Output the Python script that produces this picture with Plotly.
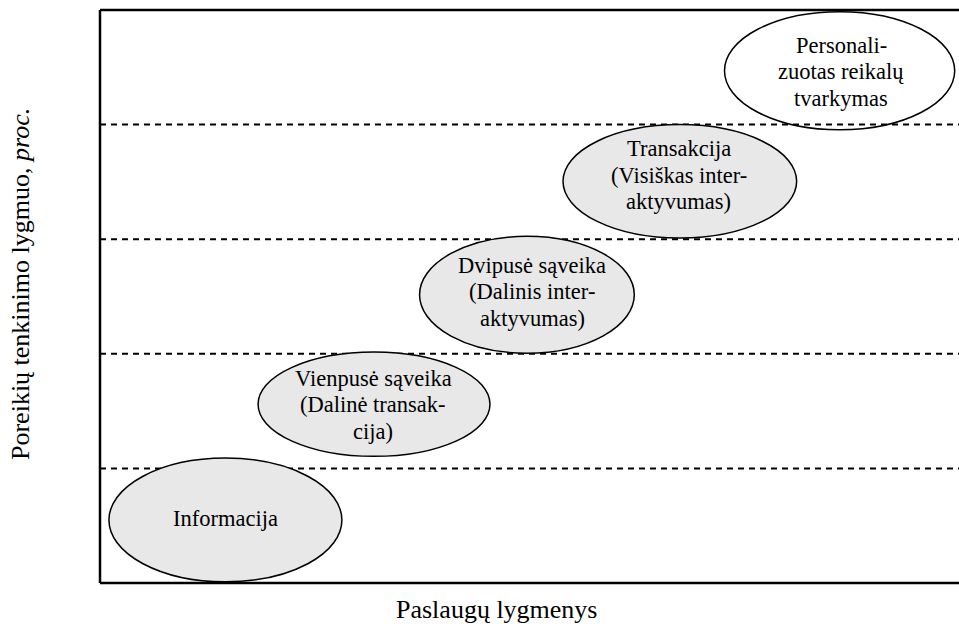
import plotly.graph_objects as go

# ---- data ----
level_labels = [
    ["Informacija"],
    ["Vienpusė sąveika", "(Dalinė transak-", "cija)"],
    ["Dvipusė sąveika", "(Dalinis inter-", "aktyvumas)"],
    ["Transakcija", "(Visiškas inter-", "aktyvumas)"],
    ["Personali-", "zuotas reikalų", "tvarkymas"],
]
# ellipse centre (service level axis, % axis) and half-sizes
ell_x = [14.6, 31.9, 49.7, 67.5, 86.1]
ell_y = [11.0, 31.2, 50.3, 70.1, 89.4]
ell_rx = [13.56, 13.5, 12.5, 13.6, 13.4]
ell_ry = [10.8, 9.1, 10.2, 9.9, 10.3]
ell_fill = ["#e8e8e8", "#e8e8e8", "#e8e8e8", "#e8e8e8", "rgba(0,0,0,0)"]
# label centres
lab_x = [14.6, 31.8, 50.3, 67.4, 86.3]
lab_y = [11.3, 31.1, 50.8, 71.2, 89.2]
band_lines = [20, 40, 60, 80]
x_title = "Paslaugų lygmenys"
y_title = "Poreikių tenkinimo lygmuo, <i>proc.</i>"

FONT = "Liberation Serif"
LINE_H = 26.5

fig = go.Figure()
fig.add_trace(go.Scatter(x=[0], y=[0], mode="markers", marker=dict(opacity=0),
                         hoverinfo="skip", showlegend=False))

shapes = []
for yv in band_lines:
    shapes.append(dict(type="line", xref="x", yref="y", x0=0, x1=100, y0=yv, y1=yv,
                       line=dict(color="black", width=2, dash="6px,5px")))
# frame (right side runs off the page)
shapes.append(dict(type="line", xref="x", yref="y", x0=0, x1=100, y0=100, y1=100,
                   line=dict(color="black", width=2.5)))
shapes.append(dict(type="line", xref="x", yref="y", x0=0, x1=100, y0=0, y1=0,
                   line=dict(color="black", width=2.5)))
shapes.append(dict(type="line", xref="x", yref="y", x0=0, x1=0, y0=0, y1=100,
                   line=dict(color="black", width=2.5)))
for cx, cy, rx, ry, fc in zip(ell_x, ell_y, ell_rx, ell_ry, ell_fill):
    shapes.append(dict(type="circle", xref="x", yref="y",
                       x0=cx - rx, x1=cx + rx, y0=cy - ry, y1=cy + ry,
                       fillcolor=fc, line=dict(color="black", width=1.5)))

annotations = []
for lines, lx, ly in zip(level_labels, lab_x, lab_y):
    n = len(lines)
    for i, t in enumerate(lines):
        annotations.append(dict(x=lx, y=ly, xref="x", yref="y", text=t, showarrow=False,
                                xanchor="center", yanchor="middle",
                                yshift=((n - 1) / 2 - i) * LINE_H,
                                font=dict(family=FONT, size=22.5, color="black")))
annotations.append(dict(x=497 / 959, y=1 - 609 / 630, xref="paper", yref="paper",
                        text=x_title, showarrow=False, xanchor="center", yanchor="middle",
                        font=dict(family=FONT, size=26, color="black")))
annotations.append(dict(x=21 / 959, y=1 - 284 / 630, xref="paper", yref="paper",
                        text=y_title, showarrow=False, textangle=-90,
                        xanchor="center", yanchor="middle",
                        font=dict(family=FONT, size=26, color="black")))

fig.update_layout(
    width=959, height=630,
    margin=dict(l=0, r=0, t=0, b=0),
    paper_bgcolor="white", plot_bgcolor="white",
    font=dict(family=FONT),
    xaxis=dict(range=[-100 / 8.59, 100], visible=False, fixedrange=True),
    yaxis=dict(range=[-47 / 5.73, 100 + 10 / 5.73], visible=False, fixedrange=True),
    shapes=shapes, annotations=annotations, showlegend=False,
)
fig.write_html("out.html", post_script="document.body.style.margin='0px';",
               config={"displayModeBar": False})
